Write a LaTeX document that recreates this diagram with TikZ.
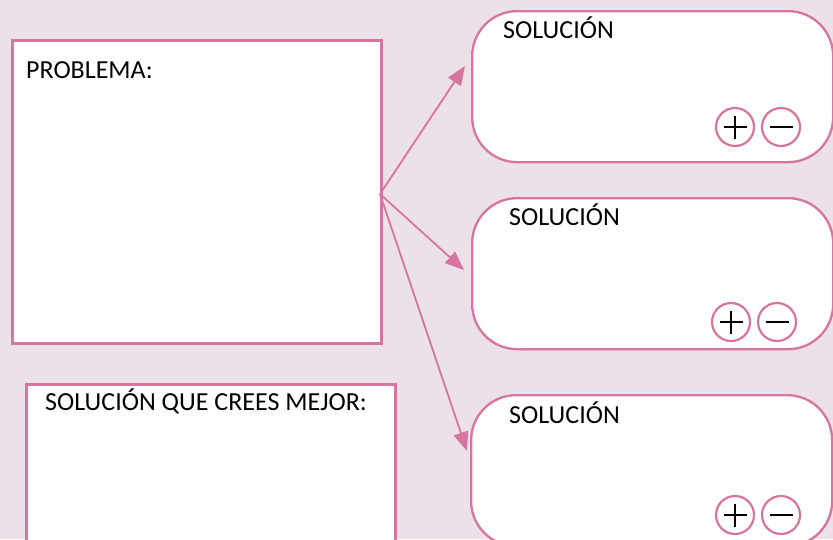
\documentclass[tikz,border=0pt]{standalone}
\usepackage{fontspec}
\setmainfont{Carlito}
\usepackage{tikz}
\usetikzlibrary{arrows.meta}

\definecolor{rosa}{RGB}{213,117,160}
\definecolor{fondo}{RGB}{236,224,233}

\begin{document}
\begin{tikzpicture}[x=1pt,y=-1pt,
    font=\fontsize{26pt}{30pt}\selectfont,
    caja/.style={draw=rosa,fill=white,line width=2.8pt,inner sep=0pt,anchor=north west},
    solbox/.style={caja,line width=2.3pt,rounded corners=45pt},
    flecha/.style={draw=rosa,line width=1.8pt,-{Triangle[length=19pt,width=15pt]}},
    texto/.style={anchor=base west,inner sep=0pt},
    circulo/.style={circle,draw=rosa,fill=white,line width=2.2pt,minimum size=38pt,inner sep=0pt},
    signo/.style={line width=2.6pt,black}]
                \fill[fondo] (0,0) rectangle (833,539);
                \useasboundingbox (0,0) rectangle (833,539);
                \clip (0,0) rectangle (833,539);

                \node[caja,minimum width=369pt,minimum height=303pt] (prob) at (11,39) {};
                \node[texto] (probtxt) at (26,78) {PROBLEMA:};

                \node[caja,minimum width=369pt,minimum height=190pt] (mejor) at (25,383) {};
                \node[texto] (mejortxt) at (45,410) {SOLUCIÓN QUE CREES MEJOR:};

                \node[solbox,minimum width=361pt,minimum height=151pt] (sol1) at (471,10) {};
                \node[texto] (sol1txt) at (503,38) {SOLUCIÓN};

                \node[solbox,minimum width=361pt,minimum height=151pt] (sol2) at (471,197) {};
                \node[texto] (sol2txt) at (509,225) {SOLUCIÓN};

                \node[solbox,minimum width=361pt,minimum height=151pt] (sol3) at (470,394) {};
                \node[texto] (sol3txt) at (509,423) {SOLUCIÓN};

                \coordinate (fork) at (380,194);
                \coordinate (tip1) at (465,66);
                \coordinate (tip2) at (464,270);
                \coordinate (tip3) at (467,451);
                \draw[flecha] (fork) -- (tip1);
                \draw[flecha] (fork) -- (tip2);
                \draw[flecha] (fork) -- (tip3);

                \foreach \i/\x/\y in {1/735/127,2/731/322,3/735/515} {
                    \node[circulo] (mas\i) at (\x,\y) {};
                    \node[circulo] (menos\i) at (\x+46,\y) {};
                    \draw[signo] (mas\i.center) ++(-11.5,0) -- ++(23,0);
                    \draw[signo] (mas\i.center) ++(0,-11.5) -- ++(0,23);
                    \draw[signo] (menos\i.center) ++(-11.5,0) -- ++(23,0);
                }
\end{tikzpicture}
\end{document}
